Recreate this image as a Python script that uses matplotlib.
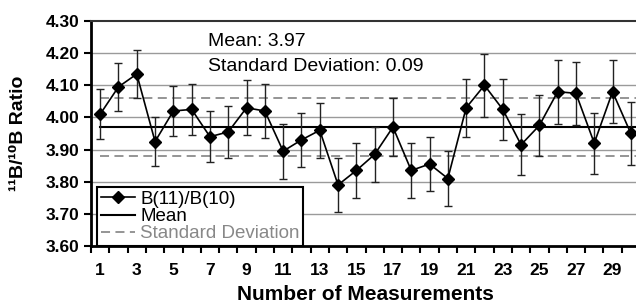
import numpy as np
import matplotlib.pyplot as plt
from matplotlib.ticker import MultipleLocator, FixedLocator

plt.rcParams['font.family'] = ['Liberation Sans', 'DejaVu Sans']

measurement = np.arange(1, 31)
ratio = [4.010, 4.095, 4.135, 3.925, 4.020, 4.025, 3.940, 3.955, 4.030, 4.020,
         3.895, 3.930, 3.960, 3.790, 3.835, 3.885, 3.970, 3.835, 3.855, 3.810,
         4.030, 4.100, 4.025, 3.915, 3.975, 4.080, 4.075, 3.920, 4.080, 3.950]
error = [0.077, 0.075, 0.075, 0.075, 0.078, 0.080, 0.080, 0.080, 0.085, 0.085,
         0.085, 0.085, 0.085, 0.085, 0.085, 0.085, 0.090, 0.085, 0.085, 0.085,
         0.090, 0.098, 0.095, 0.095, 0.095, 0.100, 0.098, 0.095, 0.098, 0.098]
mean_val = 3.97
std_val = 0.09

W, H = 636, 305
fig = plt.figure(figsize=(W / 100, H / 100), dpi=100)
ax = fig.add_axes([91 / W, 1 - 246 / H, (640 - 91) / W, (246 - 21) / H])

# gridlines
for y in np.arange(3.7, 4.25, 0.1):
    ax.axhline(y, color='#9a9a9a', lw=1.0, zorder=0)

x_span = [measurement[0], 30.5]
ax.plot(x_span, [mean_val, mean_val], color='black', lw=1.5, zorder=1, label='Mean')
ax.plot(x_span, [mean_val + std_val] * 2, color='#8c8c8c', lw=1.3, ls=(0, (5, 3)),
        zorder=1, label='Standard Deviation')
ax.plot(x_span, [mean_val - std_val] * 2, color='#8c8c8c', lw=1.3, ls=(0, (5, 3)), zorder=1)

ax.errorbar(measurement, ratio, yerr=error, fmt='none', ecolor='#222222',
            elinewidth=1.0, capsize=3, capthick=1.0, zorder=2)
ax.plot(measurement, ratio, color='black', lw=1.2, marker='D', markersize=6.5,
        zorder=3, label='B(11)/B(10)')

ax.set_xlim(0.5, 30.5)
ax.set_ylim(3.6, 4.3)

ax.yaxis.set_major_locator(MultipleLocator(0.1))
ax.set_yticklabels([f'{v:.2f}' for v in ax.get_yticks()])
ax.xaxis.set_major_locator(FixedLocator(measurement[::2]))
ax.xaxis.set_minor_locator(FixedLocator(np.arange(0.5, 31, 1)))
ax.set_xticklabels([str(v) for v in measurement[::2]])

ax.tick_params(axis='x', which='major', length=0, pad=12, labelsize=12.5)
ax.tick_params(axis='x', which='minor', length=5, width=1.5, direction='out')
ax.tick_params(axis='y', length=5, width=1.5, direction='out', pad=3, labelsize=12.5)
for lab in ax.get_xticklabels() + ax.get_yticklabels():
    lab.set_fontweight('bold')

for s in ['left', 'bottom']:
    ax.spines[s].set_linewidth(2)
ax.spines['top'].set_linewidth(1.5)
ax.spines['top'].set_color('#333333')
ax.spines['right'].set_visible(False)

ax.set_xlabel('Number of Measurements', fontsize=15, fontweight='bold', labelpad=5)
ax.set_ylabel('¹¹B/¹⁰B Ratio', fontsize=14, fontweight='bold', labelpad=14)

fig.text(208 / W, 1 - 42 / H, f'Mean: {mean_val:.2f}', fontsize=14, va='center')
fig.text(208 / W, 1 - 67 / H, f'Standard Deviation: {std_val:.2f}', fontsize=14, va='center')

handles, labels = ax.get_legend_handles_labels()
order = [2, 0, 1]
leg = ax.legend([handles[i] for i in order], [labels[i] for i in order],
                loc='lower left', bbox_to_anchor=(6 / (640 - 91), 0), borderaxespad=0,
                fontsize=13.5, handlelength=1.8, handletextpad=0.3, labelspacing=0.0,
                borderpad=0.2, fancybox=False, framealpha=1)
leg.get_frame().set_edgecolor('black')
leg.get_frame().set_linewidth(1.5)
leg.get_texts()[2].set_color('#888888')

fig.savefig('out.png', dpi=100)
